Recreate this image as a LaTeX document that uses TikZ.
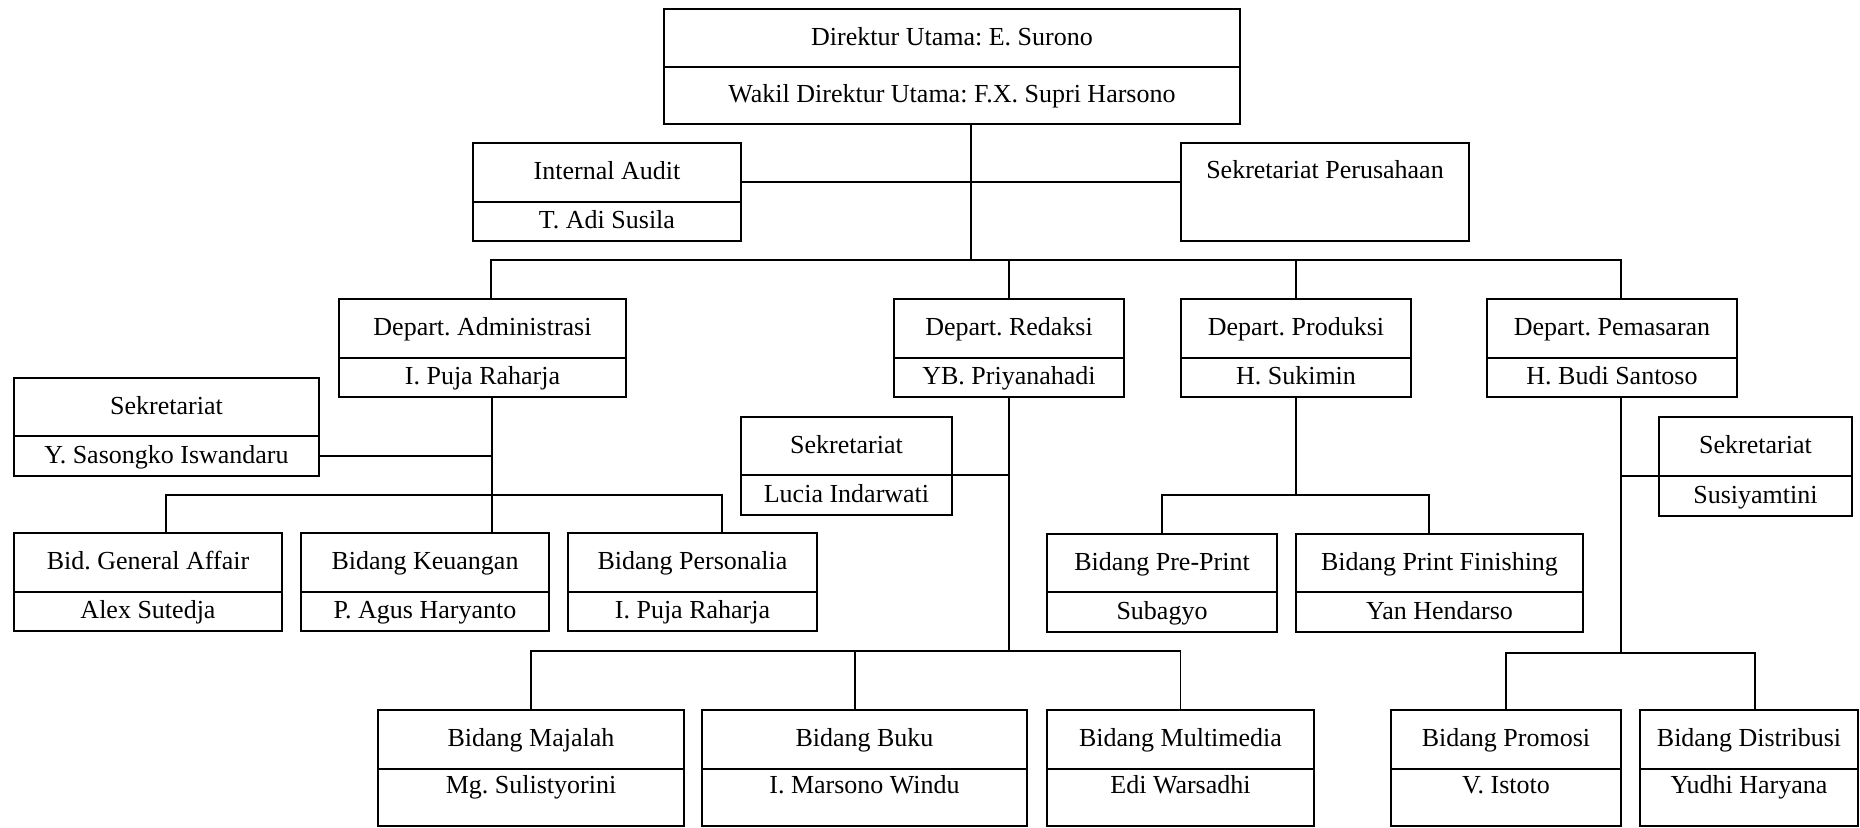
\documentclass[tikz,border=0pt]{standalone}
\usepackage{fontspec}
\setmainfont{Liberation Serif}
\usetikzlibrary{positioning}
\frenchspacing

\begin{document}
\begin{tikzpicture}[x=.5pt,y=-.5pt,line width=.8pt,
  every node/.style={font=\fontsize{13}{15}\selectfont},
  unit/.style={draw,outer sep=0pt,inner sep=0pt,text height=10pt,text depth=3pt,minimum height=29.5pt},
  holder/.style={unit,minimum height=19.5pt},
  tallholder/.style={unit,minimum height=28.5pt,text depth=14.5pt}]
\useasboundingbox (0,0) rectangle (1860,827);

\node[unit,minimum width=288pt,minimum height=29pt] (dir) at (952,38) {Direktur Utama: E. Surono};
\node[unit,minimum width=288pt,minimum height=28.5pt,below=0pt of dir] (dirW) {Wakil Direktur Utama: F.X. Supri Harsono};

\node[unit,minimum width=134pt] (ia) at (607,172.5) {Internal Audit};
\node[holder,minimum width=134pt,below=0pt of ia] (iaN) {T. Adi Susila};
\node[unit,minimum width=144pt,minimum height=49pt,text depth=24pt] (sp) at (1325,192) {Sekretariat Perusahaan};

\node[unit,minimum width=143.5pt] (adm) at (482.5,328.5) {Depart. Administrasi};
\node[holder,minimum width=143.5pt,below=0pt of adm] (admN) {I. Puja Raharja};
\node[unit,minimum width=115pt] (red) at (1009,328.5) {Depart. Redaksi};
\node[holder,minimum width=115pt,below=0pt of red] (redN) {YB. Priyanahadi};
\node[unit,minimum width=115pt] (pro) at (1296,328.5) {Depart. Produksi};
\node[holder,minimum width=115pt,below=0pt of pro] (proN) {H. Sukimin};
\node[unit,minimum width=125pt] (pem) at (1612,328.5) {Depart. Pemasaran};
\node[holder,minimum width=125pt,below=0pt of pem] (pemN) {H. Budi Santoso};

\node[unit,minimum width=152.5pt,minimum height=29pt] (sekA) at (166.5,407) {Sekretariat};
\node[holder,minimum width=152.5pt,minimum height=20pt,below=0pt of sekA] (sekAN) {Y. Sasongko Iswandaru};
\node[unit,minimum width=105.5pt,minimum height=29pt] (sekR) at (846.5,446) {Sekretariat};
\node[holder,minimum width=105.5pt,minimum height=20pt,below=0pt of sekR] (sekRN) {Lucia Indarwati};
\node[unit,minimum width=96.5pt] (sekP) at (1755.5,446.5) {Sekretariat};
\node[holder,minimum width=96.5pt,minimum height=20pt,below=0pt of sekP] (sekPN) {Susiyamtini};

\node[unit,minimum width=134pt] (ga) at (148,562.5) {Bid. General Affair};
\node[holder,minimum width=134pt,below=0pt of ga] (gaN) {Alex Sutedja};
\node[unit,minimum width=124pt] (keu) at (425,562.5) {Bidang Keuangan};
\node[holder,minimum width=124pt,below=0pt of keu] (keuN) {P. Agus Haryanto};
\node[unit,minimum width=124.5pt] (per) at (692.5,562.5) {Bidang Personalia};
\node[holder,minimum width=124.5pt,below=0pt of per] (perN) {I. Puja Raharja};

\node[unit,minimum width=115pt,minimum height=29pt] (pre) at (1162,563) {Bidang Pre-Print};
\node[holder,minimum width=115pt,minimum height=20pt,below=0pt of pre] (preN) {Subagyo};
\node[unit,minimum width=143.5pt,minimum height=29pt] (fin) at (1439.5,563) {Bidang Print Finishing};
\node[holder,minimum width=143.5pt,minimum height=20pt,below=0pt of fin] (finN) {Yan Hendarso};

\node[unit,minimum width=153pt] (maj) at (531,739.5) {Bidang Majalah};
\node[tallholder,minimum width=153pt,below=0pt of maj] (majN) {Mg. Sulistyorini};
\node[unit,minimum width=162.5pt] (buku) at (864.5,739.5) {Bidang Buku};
\node[tallholder,minimum width=162.5pt,below=0pt of buku] (bukuN) {I. Marsono Windu};
\node[unit,minimum width=133.5pt] (mm) at (1180.5,739.5) {Bidang Multimedia};
\node[tallholder,minimum width=133.5pt,below=0pt of mm] (mmN) {Edi Warsadhi};
\node[unit,minimum width=115pt] (prom) at (1506,739.5) {Bidang Promosi};
\node[tallholder,minimum width=115pt,below=0pt of prom] (promN) {V. Istoto};
\node[unit,minimum width=109pt] (dis) at (1749,739.5) {Bidang Distribusi};
\node[tallholder,minimum width=109pt,below=0pt of dis] (disN) {Yudhi Haryana};

\coordinate (topbar) at (971,260);
\coordinate (admbar) at (492,495);
\coordinate (redbar) at (1009,651);
\coordinate (probar) at (1296,495);
\coordinate (pembar) at (1621,653);

\draw ([shift={(19,0)}]dirW.south) -- (topbar);
\draw ([shift={(0,9.5)}]ia.east) -- ([shift={(0,-10)}]sp.west);
\draw ([shift={(8.5,0)}]adm.north) |- (topbar) -| ([shift={(9,0)}]pem.north);
\draw (red.north) -- (red.north |- topbar);
\draw (pro.north) -- (pro.north |- topbar);

\draw ([shift={(9.5,0)}]admN.south) -- (admbar) -- (admbar |- keu.north);
\draw (sekAN.east) -- (sekAN.east -| admbar);
\draw ([shift={(18,0)}]ga.north) |- (admbar) -| ([shift={(29.5,0)}]per.north);

\draw (redN.south) -- (redbar);
\draw (sekR.south east) -- (sekR.south east -| redbar);
\draw (maj.north) |- (redbar) -| (mm.north);
\draw ([shift={(-9.5,0)}]buku.north) |- (redbar);

\draw (proN.south) -- (probar);
\draw (pre.north) |- (probar) -| ([shift={(-10.5,0)}]fin.north);

\draw ([shift={(9,0)}]pemN.south) -- (pembar);
\draw (sekP.south west) -- (sekP.south west -| pembar);
\draw (prom.north) |- (pembar) -| ([shift={(6,0)}]dis.north);
\end{tikzpicture}
\end{document}
